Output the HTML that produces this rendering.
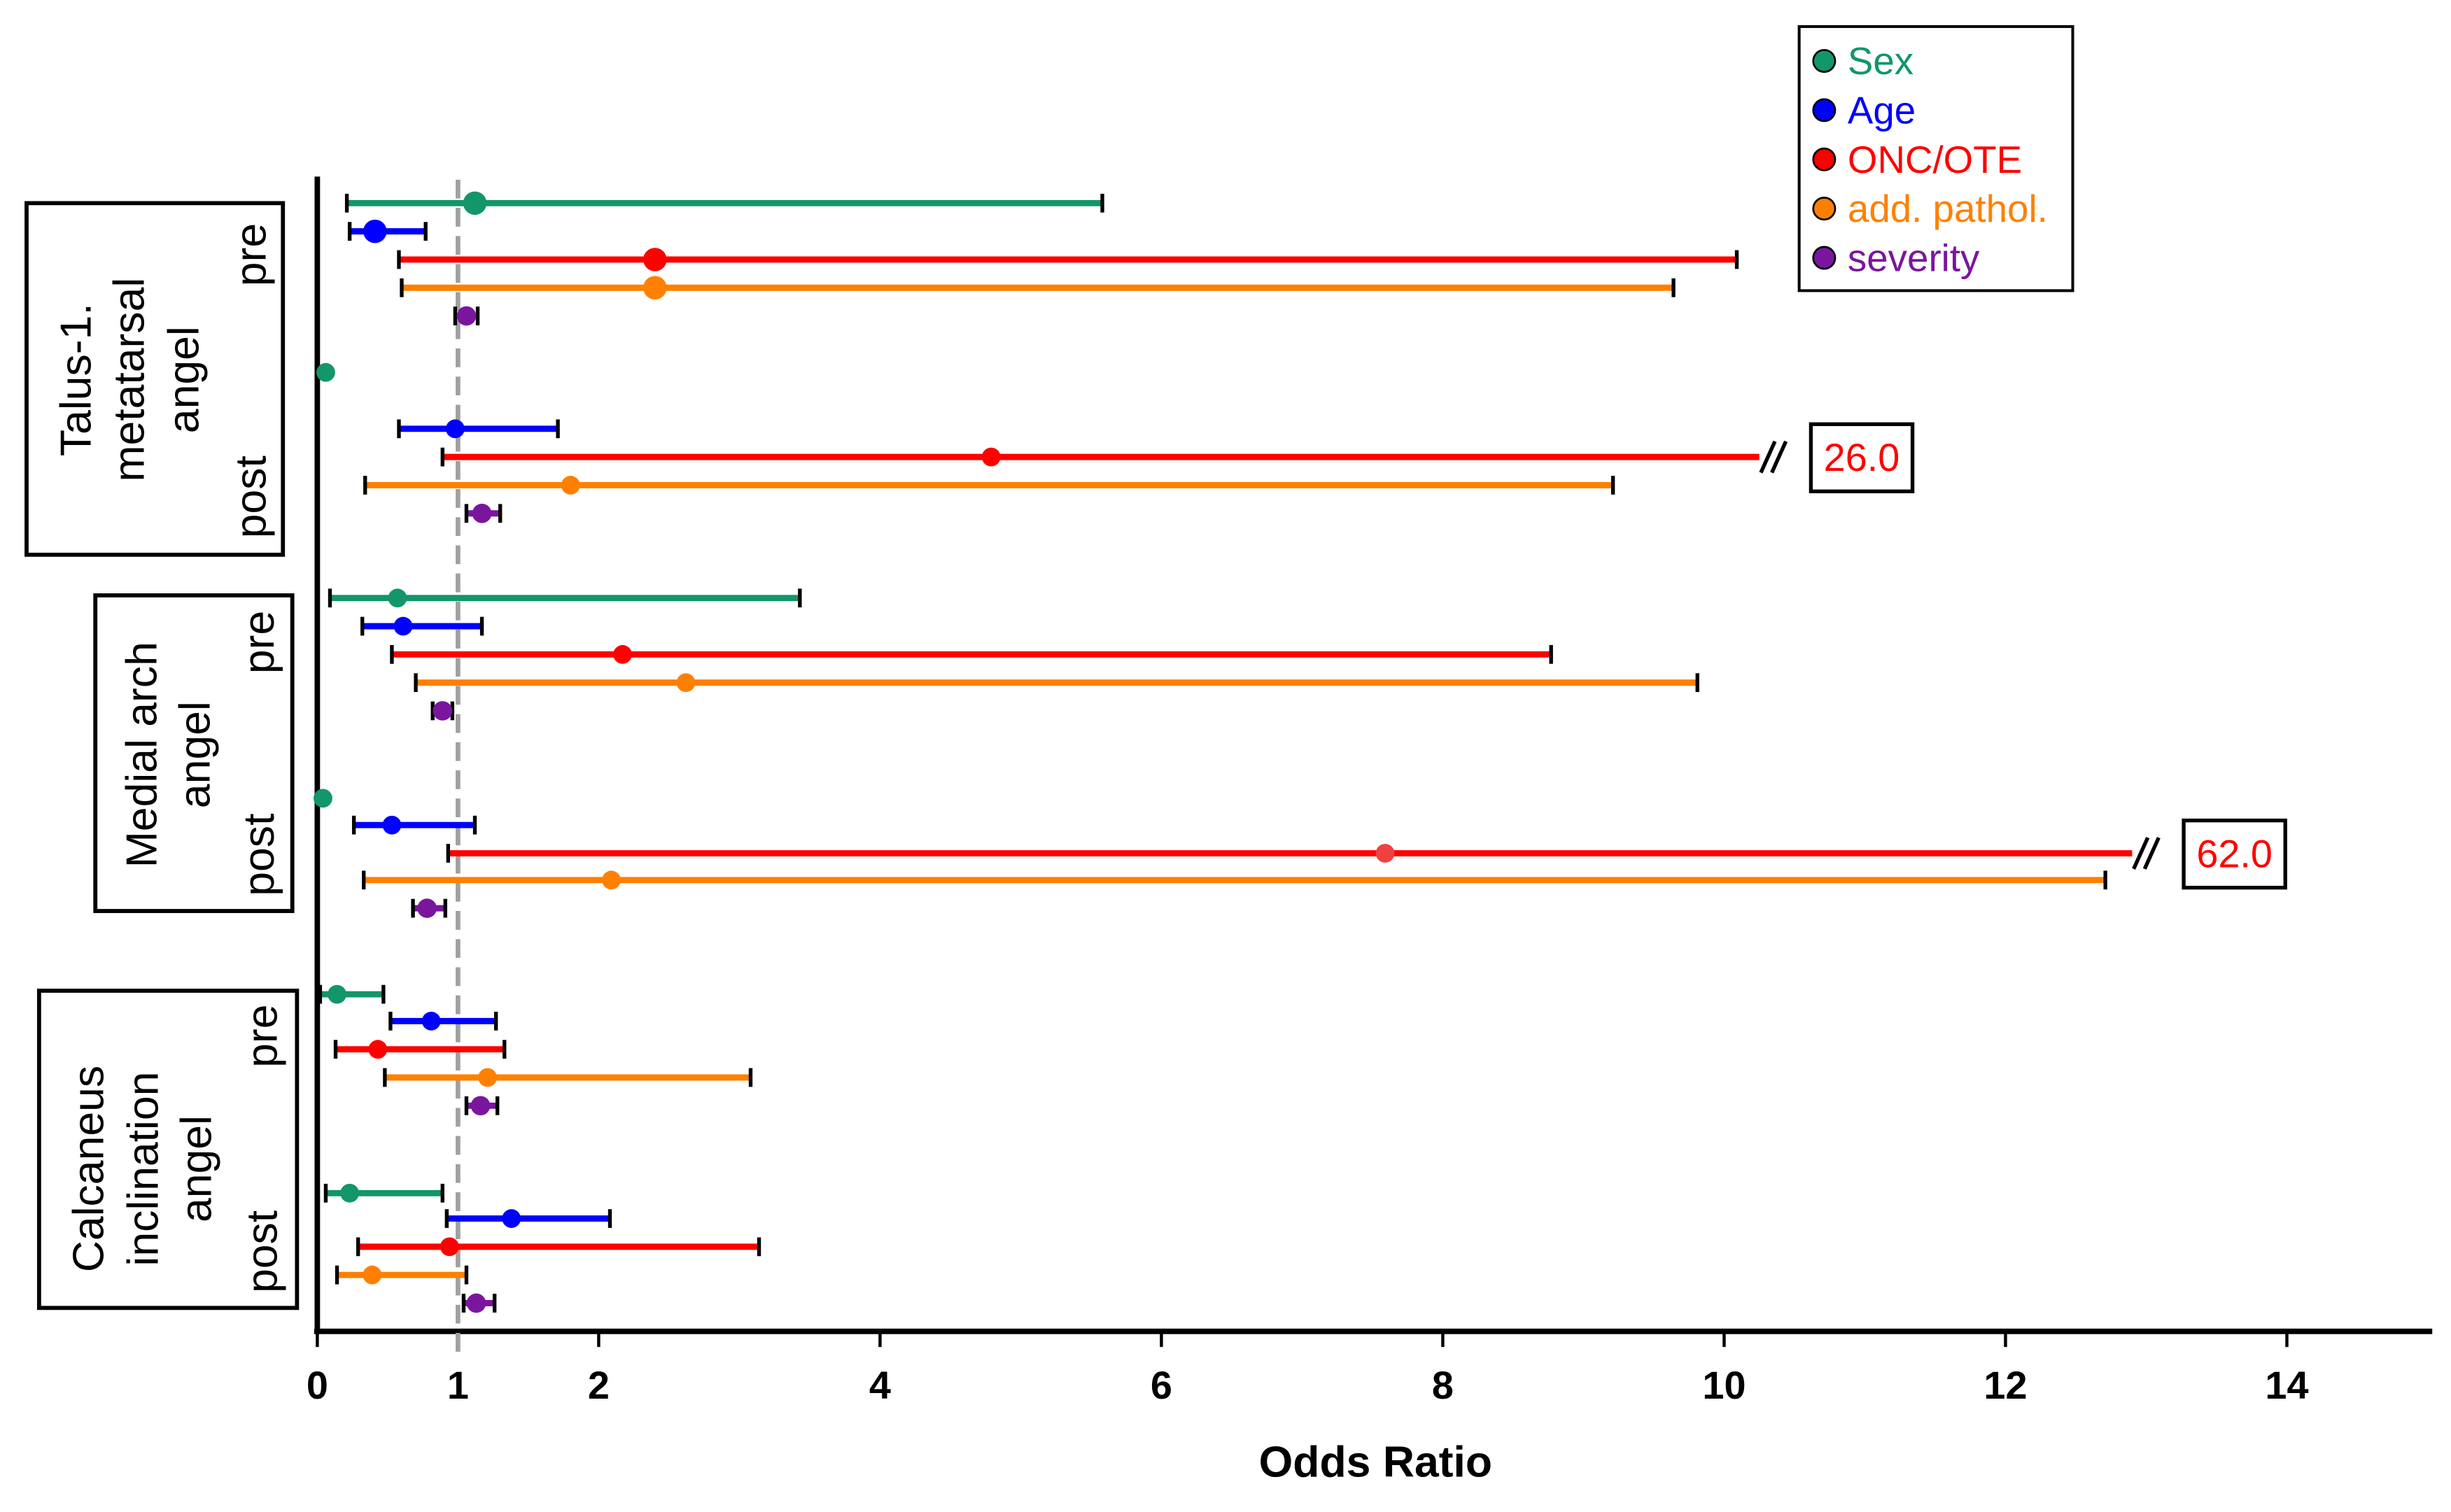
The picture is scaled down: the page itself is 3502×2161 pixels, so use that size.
<!DOCTYPE html>
<html><head><meta charset="utf-8"><style>
html,body{margin:0;padding:0;background:#fff;}
svg{display:block;}
text{font-family:"Liberation Sans",Arial,sans-serif;}
</style></head><body>
<svg id="chart" width="3502" height="2161" viewBox="0 0 1568 967.6" preserveAspectRatio="none" xmlns="http://www.w3.org/2000/svg">
<rect width="1568" height="967.6" fill="#fff"/>
<g id="plot"></g>
</svg>
<script>
// ---- data ----
const seriesNames = ["Sex","Age","ONC/OTE","add. pathol.","severity"];
const seriesColors = ["#12966a","#0000ff","#ff0000","#ff8000","#7a169e"];
const rowSeries = [0,1,2,3,4, 0,1,2,3,4, 0,1,2,3,4, 0,1,2,3,4, 0,1,2,3,4, 0,1,2,3,4];
const rowSlot   = [0,1,2,3,4, 6,8,9,10,11, 14,15,16,17,18, 21.1,22.05,23.05,24,25, 28.05,29,30,31,32, 35.1,36,37,38,39];
const oddsPoint = [1.12,0.41,2.4,2.4,1.06, 0.06,0.98,4.79,1.8,1.17, 0.57,0.61,2.17,2.62,0.89, 0.04,0.53,7.59,2.09,0.78, 0.14,0.81,0.43,1.21,1.16, 0.23,1.38,0.94,0.39,1.13];
const ciLow     = [0.21,0.23,0.58,0.6,0.98, null,0.58,0.89,0.34,1.06, 0.09,0.32,0.53,0.7,0.82, null,0.26,0.93,0.33,0.68, 0.02,0.52,0.13,0.48,1.06, 0.06,0.92,0.29,0.14,1.04];
const ciHigh    = [5.58,0.77,10.09,9.64,1.14, null,1.71,26.0,9.21,1.3, 3.43,1.17,8.77,9.81,0.96, null,1.12,62.0,12.71,0.91, 0.47,1.27,1.33,3.08,1.28, 0.89,2.08,3.14,1.06,1.26];
const xTicks = [0,1,2,4,6,8,10,12,14];
const breakAt = 10.25;
const breakAt2 = 12.9;

// ---- scales ----
const X0=203, UNIT=90, Y0=130, STEP=18.05;
const xs = v => X0 + v*UNIT;
const ys = s => Y0 + s*STEP;
const NS="http://www.w3.org/2000/svg";
const g=document.getElementById('plot');
function mk(tag, attrs, parent){const e=document.createElementNS(NS,tag);for(const k in attrs)e.setAttribute(k,attrs[k]);(parent||g).appendChild(e);return e;}

let e;
e=mk('line',{x1:203,y1:113,x2:203,y2:853,stroke:'#000','stroke-width':3.5});


e=mk('line',{x1:201,y1:852,x2:1556,y2:852,stroke:'#000','stroke-width':3.5});


xTicks.forEach(t=>{
  const tk=mk('line',{x1:xs(t),y1:852,x2:xs(t),y2:862,stroke:'#000','stroke-width':2});
  
  
  const tl=mk('text',{x:xs(t),y:895,'font-size':25,'font-weight':'bold','text-anchor':'middle',fill:'#000'});
  tl.textContent=String(t);
  
  
});
e=mk('text',{x:880,y:945,'font-size':28,'font-weight':'bold','text-anchor':'middle',fill:'#000'});
e.textContent='Odds Ratio';



e=mk('line',{x1:xs(1),y1:115,x2:xs(1),y2:870,stroke:'#a0a0a0','stroke-width':3,'stroke-dasharray':'12 6'});



for(let i=0;i<rowSeries.length;i++){
  const y=ys(rowSlot[i]); const c=seriesColors[rowSeries[i]];
  const grp=mk('g',{});
  
  
  if(ciLow[i]!==null){
    let hi=ciHigh[i], broken=false, lim=(i<10?breakAt:breakAt2);
    if(hi>14){broken=true;}
    const xe = broken? xs(lim): xs(hi);
    const ln=mk('line',{x1:xs(ciLow[i]),y1:y,x2:xe,y2:y,stroke:c,'stroke-width':4},grp);
    
    
    const cl=mk('line',{x1:xs(ciLow[i]),y1:y-6,x2:xs(ciLow[i]),y2:y+6,stroke:'#000','stroke-width':2.4},grp);
    
    
    if(!broken){
      const ch=mk('line',{x1:xs(hi),y1:y-6,x2:xs(hi),y2:y+6,stroke:'#000','stroke-width':2.4},grp);
      
      
    } else {
      const bx=xe+1;
      const b1=mk('line',{x1:bx,y1:y+10,x2:bx+9,y2:y-10,stroke:'#000','stroke-width':2.4},grp);
      
      
      const b2=mk('line',{x1:bx+7,y1:y+10,x2:bx+16,y2:y-10,stroke:'#000','stroke-width':2.4},grp);
      
      
      const r=mk('rect',{x:bx+32,y:y-21,width:65,height:43,fill:'#fff',stroke:'#000','stroke-width':2.4},grp);
      
      
      const t=mk('text',{x:bx+64.5,y:y+9,'font-size':25,'text-anchor':'middle',fill:'#ff0000'},grp);
      t.textContent=hi.toFixed(1);
      
      
    }
  }
  const big = (i<4);
  const d=mk('circle',{cx:xs(oddsPoint[i]),cy:y,r:big?7.5:(rowSeries[i]===4?6.2:6),fill:(i===17?'#f04040':c)},grp);
  
  
}

function groupBox(name,x,y,w,h,lines,lineX,cy,fs,pre,post,ppX){
  const gg=mk('g',{});
  
  
  mk('rect',{x:x,y:y,width:w,height:h,fill:'#fff',stroke:'#000','stroke-width':2.6},gg);
  lines.forEach((l,k)=>{
    const t=mk('text',{x:0,y:0,'font-size':fs,'text-anchor':'middle',fill:'#000',transform:`translate(${lineX[k]},${cy}) rotate(-90)`},gg);
    t.textContent=l;
  });
  const tp=mk('text',{x:0,y:0,'font-size':fs,'text-anchor':'middle',fill:'#000',transform:`translate(${ppX},${pre}) rotate(-90)`},gg);
  tp.textContent='pre';
  const tq=mk('text',{x:0,y:0,'font-size':fs,'text-anchor':'middle',fill:'#000',transform:`translate(${ppX},${post}) rotate(-90)`},gg);
  tq.textContent='post';
}
groupBox('talus-group-label',17,130,164,225,['Talus-1.','metatarsal','angel'],[58,92,127],243,28,163,318,170);
groupBox('medial-arch-group-label',61,381,126,202,['Medial arch','angel'],[100,134],483,28,411,547,175);
groupBox('calcaneus-group-label',25,634,165,203,['Calcaneus','inclination','angel'],[66,101,135],748,28,663,801,177);

const lg=mk('g',{});


mk('rect',{x:1151,y:17,width:175,height:169,fill:'#fff',stroke:'#000','stroke-width':1.8},lg);
const legY=[39,70.5,102,133.5,165];
seriesNames.forEach((n,k)=>{
  const it=mk('g',{},lg);
  
  
  mk('circle',{cx:1167,cy:legY[k],r:7,fill:seriesColors[k],stroke:'#000','stroke-width':1.2},it);
  const t=mk('text',{x:1182,y:legY[k]+8.5,'font-size':24.5,fill:seriesColors[k]},it);
  t.textContent=n;
});
</script>
</body></html>
